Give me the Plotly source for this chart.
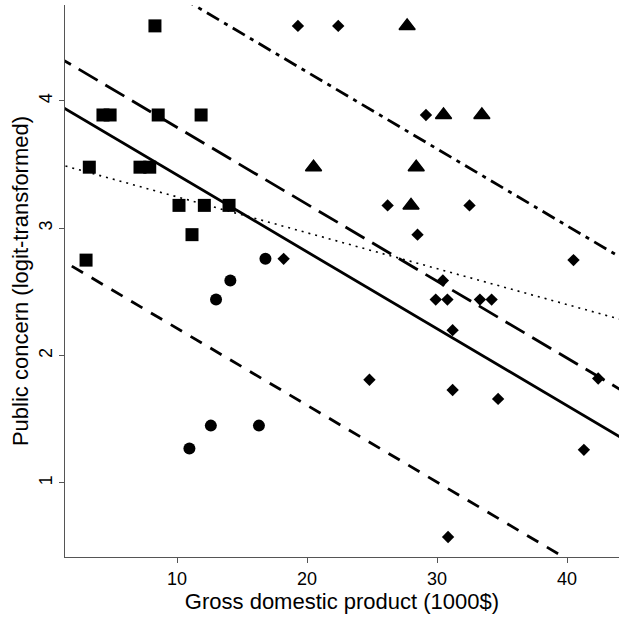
import plotly.graph_objects as go

# ---- data ----
squares_x = [8.3, 4.3, 4.85, 8.55, 11.85, 3.25, 7.15, 7.9, 10.15, 12.1, 14.0, 11.15, 3.0]
squares_y = [4.59, 3.89, 3.89, 3.89, 3.89, 3.48, 3.48, 3.48, 3.18, 3.18, 3.18, 2.95, 2.75]

circles_x = [16.8, 14.1, 13.0, 10.95, 12.6, 16.3]
circles_y = [2.76, 2.59, 2.44, 1.27, 1.45, 1.45]

diamonds_x = [19.3, 22.4, 18.2, 29.15, 26.2, 32.5, 28.5, 40.5, 30.45, 29.9, 30.8,
              33.3, 34.2, 31.2, 24.8, 31.2, 34.7, 42.4, 41.3, 30.85]
diamonds_y = [4.59, 4.59, 2.76, 3.89, 3.18, 3.18, 2.95, 2.75, 2.59, 2.44, 2.44,
              2.44, 2.44, 2.2, 1.81, 1.73, 1.66, 1.82, 1.26, 0.575]

triangles_x = [27.7, 30.5, 33.45, 20.5, 28.4, 28.0]
triangles_y = [4.59, 3.89, 3.89, 3.48, 3.48, 3.18]

# regression lines: intercept, slope
line_names = ["overall", "upper", "lower", "top", "simple"]
line_intercepts = [4.023, 4.397, 2.818, 5.436, 3.529]
line_slopes = [-0.0604, -0.0604, -0.0604, -0.0604, -0.0282]

x_ticks = [10, 20, 30, 40]
y_ticks = [1, 2, 3, 4]
x_range = [1.38, 44.0]
y_range = [0.418, 4.754]

# ---- styles ----
line_styles = {
    "overall": dict(width=2.8, dash="solid"),
    "upper": dict(width=2.8, dash="22px,9px"),
    "lower": dict(width=2.8, dash="13px,10px"),
    "top": dict(width=2.8, dash="14px,6px,4px,6px"),
    "simple": dict(width=1.6, dash="2px,5px"),
}

fig = go.Figure()

for name, b0, b1 in zip(line_names, line_intercepts, line_slopes):
    xs = [x_range[0] - 1, x_range[1] + 1]
    ys = [b0 + b1 * xv for xv in xs]
    st = line_styles[name]
    fig.add_trace(go.Scatter(x=xs, y=ys, mode="lines",
                             line=dict(color="black", width=st["width"], dash=st["dash"]),
                             hoverinfo="skip", showlegend=False))

fig.add_trace(go.Scatter(x=squares_x, y=squares_y, mode="markers",
                         marker=dict(symbol="square", size=13, color="black"),
                         showlegend=False))
fig.add_trace(go.Scatter(x=circles_x, y=circles_y, mode="markers",
                         marker=dict(symbol="circle", size=12, color="black"),
                         showlegend=False))
fig.add_trace(go.Scatter(x=diamonds_x, y=diamonds_y, mode="markers",
                         marker=dict(symbol="diamond", size=9.5, color="black"),
                         showlegend=False))
fig.add_trace(go.Scatter(x=triangles_x, y=triangles_y, mode="markers",
                         marker=dict(symbol="triangle-up", size=14, color="black",
                                     line=dict(color="black", width=1.5)),
                         showlegend=False))

axis_common = dict(showgrid=False, zeroline=False, showline=True, linecolor="#555555",
                   linewidth=1, ticks="outside", ticklen=5, tickcolor="#555555",
                   tickfont=dict(family="Arial", size=18, color="black"),
                   title_font=dict(family="Arial", size=22, color="black"))

fig.update_xaxes(range=x_range, tickvals=x_ticks, title_text="Gross domestic product (1000$)",
                 title_standoff=1, **axis_common)
fig.update_yaxes(range=y_range, tickvals=y_ticks, tickangle=-90,
                 title_text="Public concern (logit-transformed)", title_standoff=1, **axis_common)

fig.update_layout(width=619, height=617, margin=dict(l=65, r=0, t=5, b=60),
                  plot_bgcolor="white", paper_bgcolor="white")

fig.write_html("out.html", config={"displayModeBar": False},
               post_script="document.body.style.margin='0';document.body.style.padding='0';")
